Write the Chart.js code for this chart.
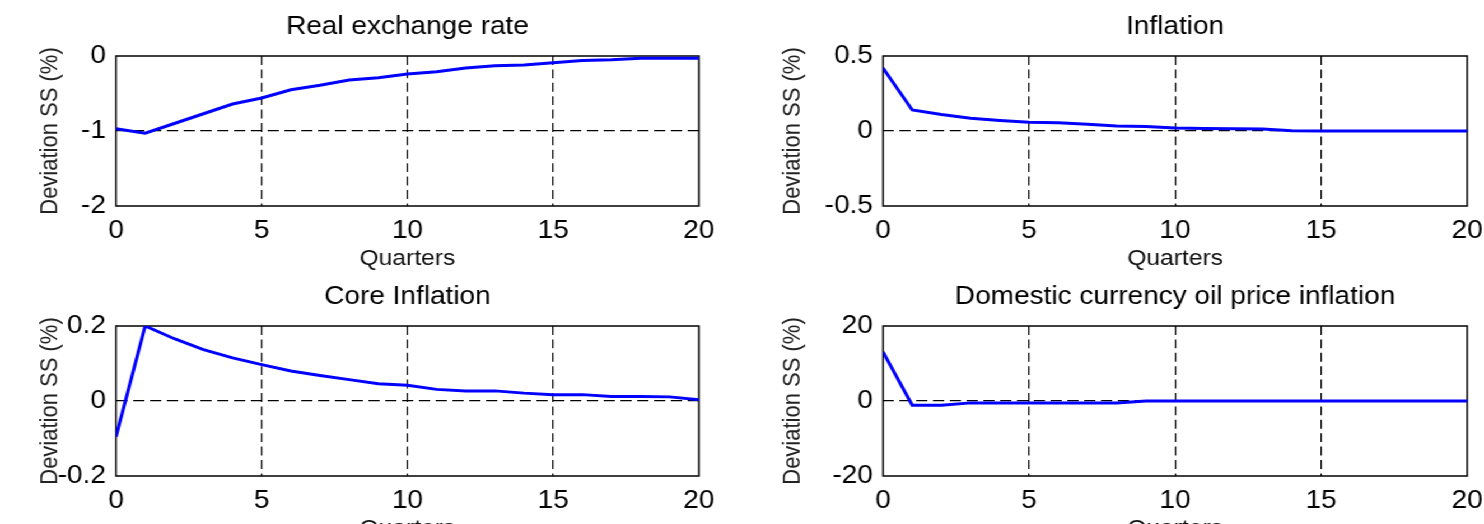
<!DOCTYPE html>
<html>
<head>
<meta charset="utf-8">
<script src="https://cdn.jsdelivr.net/npm/chart.js@4.4.1/dist/chart.umd.min.js"></script>
<style>
  html, body { margin: 0; padding: 0; background: #fff; overflow: hidden; }
  #wrap {
    position: absolute; left: 0; top: 0;
    width: 1325px; height: 524px;
    transform: scaleX(1.12); transform-origin: 0 0;
    overflow: hidden;
  }
  #wrap canvas { position: absolute; }
</style>
</head>
<body>
<div id="wrap">
  <canvas id="c1" width="662" height="270" style="left:0;top:0;width:662px;height:270px"></canvas>
  <canvas id="c2" width="700" height="270" style="left:662px;top:0;width:700px;height:270px"></canvas>
  <canvas id="c3" width="662" height="270" style="left:0;top:270px;width:662px;height:270px"></canvas>
  <canvas id="c4" width="700" height="270" style="left:662px;top:270px;width:700px;height:270px"></canvas>
</div>
<script>
const quarters = [0,1,2,3,4,5,6,7,8,9,10,11,12,13,14,15,16,17,18,19,20];
const xTicks = [0, 5, 10, 15, 20];

const realExchangeRate = [-0.97, -1.03, -0.90, -0.77, -0.64, -0.56, -0.45, -0.39, -0.32, -0.29, -0.24,
                          -0.21, -0.16, -0.13, -0.12, -0.09, -0.06, -0.05, -0.03, -0.03, -0.03];
const inflation = [0.42, 0.14, 0.11, 0.085, 0.07, 0.058, 0.055, 0.045, 0.033, 0.03, 0.02,
                   0.016, 0.015, 0.014, 0.002, 0, 0, 0, 0, 0, 0];
const coreInflation = [-0.095, 0.2, 0.166, 0.137, 0.115, 0.097, 0.08, 0.068, 0.057, 0.046, 0.042,
                       0.031, 0.027, 0.027, 0.021, 0.017, 0.017, 0.012, 0.012, 0.011, 0.003];
const oilPriceInflation = [13.1, -1.1, -1.1, -0.5, -0.5, -0.5, -0.5, -0.5, -0.5, 0, 0,
                           0, 0, 0, 0, 0, 0, 0, 0, 0, 0];

const rerTicks = [-2, -1, 0];
const inflTicks = [-0.5, 0, 0.5];
const coreTicks = [-0.2, 0, 0.2];
const oilTicks = [-20, 0, 20];

const titles = ["Real exchange rate", "Inflation", "Core Inflation", "Domestic currency oil price inflation"];
const yTitle = "Deviation SS (%)";
const xTitle = "Quarters";

const FONT = "'Liberation Sans', Arial, Helvetica, sans-serif";

// solid box around the plot area, like matlab's "box on"
const boxPlugin = {
  id: "box",
  beforeDatasetsDraw(chart) {
    const a = chart.chartArea;
    const c = chart.ctx;
    c.save();
    c.strokeStyle = "#000";
    c.lineWidth = 1.5;
    c.setLineDash([]);
    c.strokeRect(a.left, a.top, a.right - a.left, a.bottom - a.top);
    c.restore();
  }
};

function makeChart(id, title, values, yTickVals, yAxisWidth, yTitlePad, rightPad) {
  const yMin = yTickVals[0], yMax = yTickVals[yTickVals.length - 1];
  const innerGrid = (min, max) => ctx =>
    (ctx.tick && (ctx.tick.value === min || ctx.tick.value === max)) ? "rgba(0,0,0,0)" : "#000";

  return new Chart(document.getElementById(id), {
    type: "line",
    data: {
      datasets: [{
        data: quarters.map((q, i) => ({ x: q, y: values[i] })),
        borderColor: "#0000ff",
        borderWidth: 3,
        pointRadius: 0,
        tension: 0,
        fill: false
      }]
    },
    options: {
      responsive: false,
      animation: false,
      layout: { padding: { left: 0, right: rightPad, top: 0, bottom: 0 } },
      plugins: {
        legend: { display: false },
        tooltip: { enabled: false },
        title: {
          display: true,
          text: title,
          fullSize: false,
          color: "#000",
          font: { family: FONT, size: 25, weight: "normal" },
          padding: { top: 12, bottom: 14 }
        }
      },
      scales: {
        x: {
          type: "linear",
          min: quarters[0],
          max: quarters[quarters.length - 1],
          afterBuildTicks: s => { s.ticks = xTicks.map(v => ({ value: v })); },
          afterFit: s => { s.height = 64; },
          grid: { color: innerGrid(xTicks[0], xTicks[xTicks.length - 1]), lineWidth: 1.2, drawTicks: false },
          border: { display: false, dash: [8.9, 4.5] },
          ticks: {
            color: "#000", padding: 10, maxRotation: 0, autoSkip: false,
            font: { family: FONT, size: 25 }
          },
          title: {
            display: true, text: xTitle, color: "#111",
            font: { family: FONT, size: 22, lineHeight: 1 },
            padding: { top: 0, bottom: 0 }
          }
        },
        y: {
          type: "linear",
          min: yMin,
          max: yMax,
          afterBuildTicks: s => { s.ticks = yTickVals.map(v => ({ value: v })); },
          afterFit: s => { s.width = yAxisWidth; },
          grid: { color: innerGrid(yMin, yMax), lineWidth: 1.2, drawTicks: false },
          border: { display: false, dash: [10, 5] },
          ticks: {
            color: "#000", padding: 9,
            font: { family: FONT, size: 25 },
            callback: v => String(v)
          },
          title: {
            display: true, text: yTitle, color: "#222",
            font: { family: FONT, size: 22 },
            padding: { top: yTitlePad, bottom: 0 }
          }
        }
      }
    },
    plugins: [boxPlugin]
  });
}

makeChart("c1", titles[0], realExchangeRate, rerTicks, 103.6, 32, 38);
makeChart("c2", titles[1], inflation, inflTicks, 126.4, 33, 52);
makeChart("c3", titles[2], coreInflation, coreTicks, 103.6, 32, 38);
makeChart("c4", titles[3], oilPriceInflation, oilTicks, 126.4, 33, 52);
</script>
</body>
</html>
